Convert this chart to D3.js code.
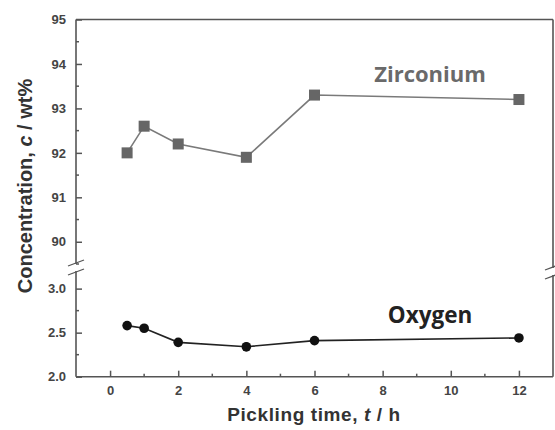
<!DOCTYPE html>
<html>
<head>
<meta charset="utf-8">
<script src="https://cdn.jsdelivr.net/npm/d3@7"></script>
<style>
  body { margin: 0; background: #fff; }
  svg { display: block; font-family: "Liberation Sans", Arial, sans-serif; }
</style>
</head>
<body>
<div id="chart"></div>
<script>
// pickling time (h)
const times = [0.5, 1, 2, 4, 6, 12];
// concentrations (wt%)
const zirconium = [92.0, 92.6, 92.2, 91.9, 93.3, 93.2];
const oxygen = [2.58, 2.55, 2.39, 2.34, 2.41, 2.44];
const oxygenErr = [0.02, 0.02, 0.02, 0.03, 0.02, 0.02];

const xTicks = [0, 2, 4, 6, 8, 10, 12];
const xMinor = [1, 3, 5, 7, 9, 11];
const yTopTicks = [90, 91, 92, 93, 94, 95];
const yTopMinor = [89.5, 90.5, 91.5, 92.5, 93.5, 94.5];
const yBotTicks = [2.0, 2.5, 3.0];
const yBotMinor = [2.25, 2.75];

const W = 555, H = 430;
const pLeft = 76, pRight = 553, pTop = 19.5, pBottom = 376.7;
const breakTop = 264, breakBot = 271;
const frame = "#555";

const svg = d3.select("#chart").append("svg")
  .attr("width", W).attr("height", H);

const x = d3.scaleLinear().domain([-1, 13]).range([pLeft, pRight]);
const yTop = d3.scaleLinear().domain([89.5, 95]).range([breakTop, pTop]);
const yBot = d3.scaleLinear().domain([2, 3.2]).range([pBottom, breakBot]);

// frame
const fr = svg.append("g").attr("stroke", frame).attr("stroke-width", 1.6).attr("fill", "none");
fr.append("line").attr("x1", pLeft).attr("x2", pRight).attr("y1", pTop).attr("y2", pTop);
fr.append("line").attr("x1", pLeft).attr("x2", pRight).attr("y1", pBottom).attr("y2", pBottom);
fr.append("line").attr("x1", pLeft).attr("x2", pLeft).attr("y1", pTop).attr("y2", breakTop);
fr.append("line").attr("x1", pLeft).attr("x2", pLeft).attr("y1", breakBot).attr("y2", pBottom);
fr.append("line").attr("x1", pRight).attr("x2", pRight).attr("y1", pTop).attr("y2", breakTop + 4);
fr.append("line").attr("x1", pRight).attr("x2", pRight).attr("y1", breakBot + 4).attr("y2", pBottom);

// break marks
[[pLeft, 0], [pRight, 4]].forEach(([bx, off]) => {
  [breakTop - 1 + off, breakBot + 1 + off].forEach(by => {
    fr.append("line")
      .attr("x1", bx - 8).attr("y1", by + 3)
      .attr("x2", bx + 8).attr("y2", by - 3)
      .attr("stroke-width", 1.3);
  });
});

// x axis (ticks pointing inward)
const xAxis = d3.axisBottom(x).tickValues(xTicks).tickSizeInner(-6).tickSizeOuter(0).tickPadding(9);
const gx = svg.append("g").attr("transform", `translate(0,${pBottom})`).call(xAxis);
gx.select(".domain").remove();
gx.selectAll("line").attr("stroke", frame).attr("stroke-width", 1.5);
gx.selectAll("text").attr("font-size", 13).attr("font-weight", "bold").attr("fill", "#444");
gx.selectAll(".minor").data(xMinor).join("line")
  .attr("x1", d => x(d)).attr("x2", d => x(d))
  .attr("y1", 0).attr("y2", -3).attr("stroke", frame).attr("stroke-width", 1.5);

// y axes (upper and lower segments)
function yAxisPart(scale, ticks, minor, fmt) {
  const ax = d3.axisLeft(scale).tickValues(ticks).tickFormat(fmt)
    .tickSizeInner(-6).tickSizeOuter(0).tickPadding(10);
  const g = svg.append("g").attr("transform", `translate(${pLeft},0)`).call(ax);
  g.select(".domain").remove();
  g.selectAll("line").attr("stroke", frame).attr("stroke-width", 1.5);
  g.selectAll("text").attr("font-size", 13).attr("font-weight", "bold").attr("fill", "#444");
  g.selectAll(".minor").data(minor).join("line")
    .attr("y1", d => scale(d)).attr("y2", d => scale(d))
    .attr("x1", 0).attr("x2", 3).attr("stroke", frame).attr("stroke-width", 1.5);
}
yAxisPart(yTop, yTopTicks, yTopMinor, d3.format("d"));
yAxisPart(yBot, yBotTicks, yBotMinor, d3.format(".1f"));

// zirconium series
const zr = times.map((t, i) => ({ t, v: zirconium[i] }));
svg.append("path").datum(zr)
  .attr("fill", "none").attr("stroke", "#7a7a7a").attr("stroke-width", 1.6)
  .attr("d", d3.line().x(d => x(d.t)).y(d => yTop(d.v)));
svg.append("g").selectAll("rect").data(zr).join("rect")
  .attr("x", d => x(d.t) - 5.5).attr("y", d => yTop(d.v) - 5.5)
  .attr("width", 11).attr("height", 11).attr("fill", "#666");

// oxygen series
const ox = times.map((t, i) => ({ t, v: oxygen[i], e: oxygenErr[i] }));
svg.append("path").datum(ox)
  .attr("fill", "none").attr("stroke", "#222").attr("stroke-width", 1.6)
  .attr("d", d3.line().x(d => x(d.t)).y(d => yBot(d.v)));
svg.append("g").selectAll("line").data(ox).join("line")
  .attr("x1", d => x(d.t)).attr("x2", d => x(d.t))
  .attr("y1", d => yBot(d.v - d.e) + 2).attr("y2", d => yBot(d.v + d.e) - 2)
  .attr("stroke", "#111").attr("stroke-width", 2);
svg.append("g").selectAll("circle").data(ox).join("circle")
  .attr("cx", d => x(d.t)).attr("cy", d => yBot(d.v)).attr("r", 4.8)
  .attr("fill", "#111");

// series labels
svg.append("text").attr("x", 430).attr("y", 82).attr("text-anchor", "middle")
  .attr("font-family", "'Open Sans', sans-serif").attr("font-weight", "bold")
  .attr("font-size", 22).attr("fill", "#6a6a6a").text("Zirconium");
svg.append("text").attr("x", 430).attr("y", 323).attr("text-anchor", "middle")
  .attr("font-family", "'Open Sans', sans-serif").attr("font-weight", "bold")
  .attr("font-size", 22.5).attr("fill", "#222").text("Oxygen");

// axis titles
const xt = svg.append("text").attr("x", 314).attr("y", 421).attr("text-anchor", "middle")
  .attr("font-size", 19).attr("font-weight", "bold").attr("fill", "#333").attr("letter-spacing", 0.6);
xt.append("tspan").text("Pickling time, ");
xt.append("tspan").attr("font-style", "italic").text("t");
xt.append("tspan").text(" / h");

const yt = svg.append("text").attr("transform", "translate(32,186) rotate(-90)")
  .attr("text-anchor", "middle")
  .attr("font-size", 20).attr("font-weight", "bold").attr("fill", "#333");
yt.append("tspan").text("Concentration, ");
yt.append("tspan").attr("font-style", "italic").text("c");
yt.append("tspan").text(" / wt%");
</script>
</body>
</html>
